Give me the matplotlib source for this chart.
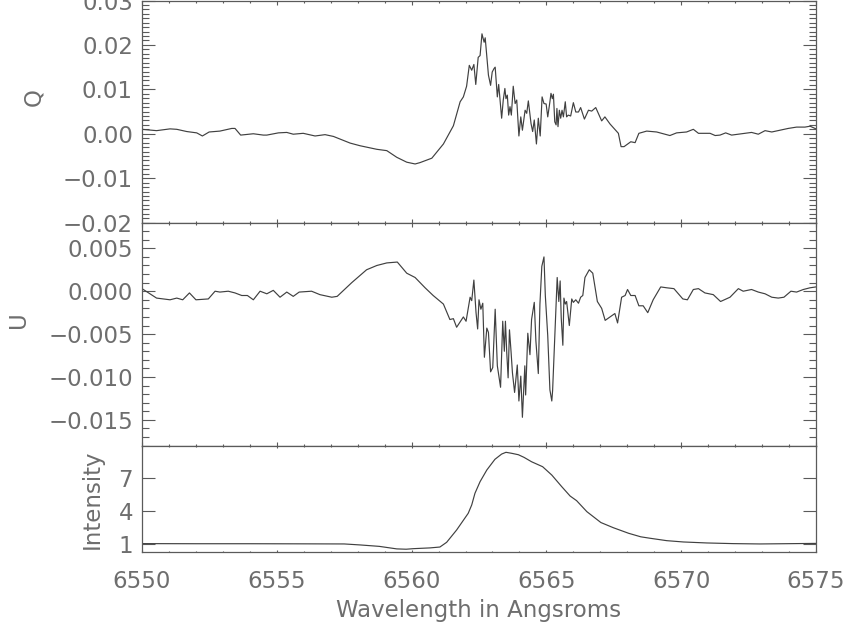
import numpy as np
import matplotlib
matplotlib.use("Agg")
import matplotlib.pyplot as plt
from matplotlib.ticker import MultipleLocator, FuncFormatter

# Stokes Q (wavelength in Angstrom, Q)
q_wave = [6550.00, 6550.54, 6551.04, 6551.29, 6551.66, 6552.03, 6552.24, 6552.49, 6552.89, 6553.33,
          6553.45, 6553.66, 6554.13, 6554.50, 6554.63, 6555.06, 6555.37, 6555.61, 6555.98, 6556.42,
          6556.79, 6557.10, 6557.72, 6558.09, 6558.71, 6559.08, 6559.45, 6559.82, 6560.13, 6560.31,
          6560.75, 6561.18, 6561.55, 6561.80, 6561.92, 6562.04, 6562.14, 6562.23, 6562.31, 6562.38,
          6562.47, 6562.54, 6562.61, 6562.69, 6562.73, 6562.85, 6562.93, 6562.99, 6563.06, 6563.10,
          6563.18, 6563.23, 6563.30, 6563.34, 6563.40, 6563.46, 6563.50, 6563.55, 6563.60, 6563.65,
          6563.70, 6563.77, 6563.84, 6563.90, 6563.98, 6564.05, 6564.11, 6564.21, 6564.27, 6564.33,
          6564.43, 6564.49, 6564.55, 6564.63, 6564.70, 6564.77, 6564.84, 6564.91, 6564.99, 6565.05,
          6565.13, 6565.17, 6565.22, 6565.26, 6565.31, 6565.36, 6565.39, 6565.43, 6565.48, 6565.53,
          6565.58, 6565.63, 6565.70, 6565.75, 6565.81, 6565.90, 6566.00, 6566.09, 6566.19, 6566.27,
          6566.41, 6566.56, 6566.68, 6566.83, 6567.05, 6567.17, 6567.36, 6567.61, 6567.67, 6567.77,
          6567.88, 6568.13, 6568.29, 6568.43, 6568.72, 6569.09, 6569.58, 6569.83, 6570.20, 6570.45,
          6570.64, 6571.07, 6571.26, 6571.44, 6571.65, 6571.87, 6572.24, 6572.61, 6572.86, 6573.11,
          6573.36, 6573.66, 6573.97, 6574.28, 6574.59, 6574.78, 6575.00]
q_vals = [0.0010, 0.0007, 0.0011, 0.0010, 0.0005, 0.0002, -0.0005, 0.0004, 0.0006, 0.0012,
          0.0012, -0.0003, 0.0000, -0.0003, -0.0003, 0.0002, 0.0003, -0.0001, 0.0001, -0.0005,
          -0.0002, -0.0006, -0.0021, -0.0027, -0.0035, -0.0038, -0.0053, -0.0064, -0.0068, -0.0065,
          -0.0055, -0.0023, 0.0018, 0.0072, 0.0083, 0.0107, 0.0154, 0.0143, 0.0156, 0.0111,
          0.0172, 0.0176, 0.0225, 0.0206, 0.0216, 0.0132, 0.0109, 0.0139, 0.0147, 0.0150,
          0.0083, 0.0111, 0.0061, 0.0035, 0.0076, 0.0102, 0.0079, 0.0087, 0.0042, 0.0061,
          0.0042, 0.0107, 0.0068, 0.0076, -0.0005, 0.0038, 0.0008, 0.0053, 0.0046, 0.0074,
          0.0023, 0.0005, 0.0031, -0.0023, 0.0035, -0.0005, 0.0083, 0.0068, 0.0067, 0.0038,
          0.0072, 0.0091, 0.0079, 0.0089, 0.0027, 0.0020, 0.0057, 0.0016, 0.0053, 0.0035,
          0.0053, 0.0038, 0.0072, 0.0038, 0.0042, 0.0040, 0.0070, 0.0049, 0.0049, 0.0059,
          0.0033, 0.0053, 0.0051, 0.0059, 0.0029, 0.0038, 0.0022, 0.0005, 0.0001, -0.0029,
          -0.0029, -0.0018, -0.0020, 0.0001, 0.0006, 0.0004, -0.0004, 0.0002, 0.0004, 0.0010,
          0.0001, 0.0001, -0.0004, -0.0003, 0.0002, -0.0003, 0.0000, 0.0003, -0.0001, 0.0007,
          0.0004, 0.0008, 0.0012, 0.0015, 0.0015, 0.0017, 0.0011]

# Stokes U
u_wave = [6550.00, 6550.54, 6551.04, 6551.29, 6551.51, 6551.76, 6552.00, 6552.46, 6552.71, 6552.89,
          6553.20, 6553.45, 6553.70, 6553.91, 6554.13, 6554.38, 6554.63, 6554.87, 6555.12, 6555.37,
          6555.61, 6555.83, 6556.29, 6556.60, 6557.04, 6557.24, 6557.78, 6558.33, 6558.71, 6559.08,
          6559.47, 6559.82, 6560.13, 6560.50, 6560.80, 6561.18, 6561.42, 6561.55, 6561.67, 6561.92,
          6562.02, 6562.17, 6562.23, 6562.31, 6562.39, 6562.45, 6562.50, 6562.57, 6562.64, 6562.70,
          6562.79, 6562.85, 6562.93, 6563.01, 6563.10, 6563.18, 6563.30, 6563.38, 6563.44, 6563.48,
          6563.53, 6563.58, 6563.63, 6563.69, 6563.74, 6563.82, 6563.92, 6563.98, 6564.05, 6564.11,
          6564.20, 6564.23, 6564.31, 6564.39, 6564.45, 6564.55, 6564.61, 6564.70, 6564.76, 6564.83,
          6564.91, 6564.96, 6565.05, 6565.13, 6565.20, 6565.23, 6565.32, 6565.40, 6565.46, 6565.51,
          6565.55, 6565.61, 6565.65, 6565.70, 6565.75, 6565.85, 6565.94, 6566.00, 6566.09, 6566.19,
          6566.27, 6566.35, 6566.43, 6566.59, 6566.72, 6566.89, 6567.05, 6567.18, 6567.36, 6567.54,
          6567.64, 6567.79, 6567.92, 6568.01, 6568.13, 6568.29, 6568.43, 6568.59, 6568.76, 6568.96,
          6569.24, 6569.46, 6569.73, 6570.06, 6570.23, 6570.45, 6570.64, 6570.88, 6571.19, 6571.46,
          6571.81, 6572.12, 6572.30, 6572.61, 6572.86, 6573.11, 6573.36, 6573.60, 6573.81, 6574.07,
          6574.28, 6574.53, 6574.78, 6575.00]
u_vals = [0.0003, -0.0008, -0.0010, -0.0008, -0.0010, -0.0002, -0.0010, -0.0009, 0.0000, -0.0001,
          0.0000, -0.0002, -0.0005, -0.0005, -0.0010, 0.0000, -0.0003, 0.0001, -0.0007, -0.0001,
          -0.0006, -0.0001, 0.0000, -0.0004, -0.0007, -0.0006, 0.0010, 0.0025, 0.0030, 0.0033,
          0.0034, 0.0021, 0.0016, 0.0004, -0.0005, -0.0015, -0.0033, -0.0032, -0.0042, -0.0030,
          -0.0035, -0.0007, -0.0011, 0.0013, -0.0025, -0.0044, -0.0010, -0.0021, -0.0014, -0.0077,
          -0.0043, -0.0048, -0.0094, -0.0089, -0.0021, -0.0087, -0.0112, -0.0035, -0.0070, -0.0035,
          -0.0072, -0.0101, -0.0045, -0.0071, -0.0095, -0.0118, -0.0086, -0.0128, -0.0099, -0.0147,
          -0.0087, -0.0121, -0.0049, -0.0074, -0.0033, -0.0013, -0.0058, -0.0096, -0.0015, 0.0029,
          0.0040, -0.0005, -0.0052, -0.0115, -0.0128, -0.0116, -0.0045, 0.0016, -0.0012, 0.0012,
          -0.0031, -0.0063, -0.0008, -0.0015, -0.0012, -0.0040, -0.0009, -0.0013, -0.0010, -0.0014,
          -0.0007, -0.0005, 0.0016, 0.0025, 0.0021, -0.0012, -0.0020, -0.0034, -0.0030, -0.0026,
          -0.0037, -0.0007, -0.0005, 0.0002, -0.0005, -0.0005, -0.0017, -0.0017, -0.0025, -0.0010,
          0.0005, 0.0004, 0.0003, -0.0009, -0.0010, 0.0002, 0.0003, -0.0002, -0.0004, -0.0012,
          -0.0007, 0.0003, 0.0000, 0.0002, -0.0001, -0.0003, -0.0007, -0.0008, -0.0007, 0.0000,
          -0.0001, 0.0002, 0.0004, 0.0005]

# Intensity profile
i_wave = [6550.00, 6552.00, 6554.00, 6556.00, 6557.50, 6558.09, 6558.80, 6559.45, 6559.80, 6560.06,
          6560.68, 6561.05, 6561.30, 6561.67, 6562.10, 6562.23, 6562.35, 6562.54, 6562.79, 6563.09,
          6563.34, 6563.50, 6563.71, 6563.96, 6564.17, 6564.45, 6564.86, 6565.20, 6565.57, 6565.88,
          6566.12, 6566.50, 6567.02, 6567.48, 6568.05, 6568.50, 6568.84, 6569.46, 6570.08, 6570.95,
          6571.93, 6572.92, 6573.79, 6575.00]
i_vals = [1.03, 1.02, 1.02, 1.01, 1.00, 0.91, 0.78, 0.55, 0.52, 0.57,
          0.64, 0.72, 1.15, 2.27, 3.79, 4.55, 5.61, 6.67, 7.73, 8.70,
          9.18, 9.34, 9.25, 9.12, 8.88, 8.48, 8.03, 7.27, 6.21, 5.36,
          4.94, 3.94, 2.95, 2.48, 1.97, 1.65, 1.52, 1.30, 1.18, 1.09,
          1.03, 1.00, 1.02, 1.05]

x_ticks = [6550, 6555, 6560, 6565, 6570, 6575]

text_col = '#6e6e6e'
line_col = '#404040'
plt.rcParams['font.family'] = ['DejaVu Sans']
plt.rcParams['font.size'] = 16.5


def minus_fmt(fmt):
    # proper minus sign, like the long dash in the original
    return FuncFormatter(lambda v, pos: (fmt % v).replace('-', '\u2212'))


fig = plt.figure(figsize=(8.44, 6.24), dpi=100)
left, width = 142 / 844, 674 / 844
ax_q = fig.add_axes([left, 1 - 222.6 / 624, width, 222.1 / 624])
ax_u = fig.add_axes([left, 1 - 445.6 / 624, width, 223.0 / 624])
ax_i = fig.add_axes([left, 1 - 552.3 / 624, width, 106.7 / 624])

ax_q.plot(q_wave, q_vals, color=line_col, lw=0.85)
ax_u.plot(u_wave, u_vals, color=line_col, lw=0.85)
ax_i.plot(i_wave, i_vals, color=line_col, lw=0.85)

ax_q.set_ylim(-0.02, 0.03)
ax_q.yaxis.set_major_locator(MultipleLocator(0.01))
ax_q.yaxis.set_minor_locator(MultipleLocator(0.001))
ax_q.yaxis.set_major_formatter(minus_fmt('%.2f'))

ax_u.set_ylim(-0.018, 0.008)
ax_u.yaxis.set_major_locator(MultipleLocator(0.005))
ax_u.yaxis.set_minor_locator(MultipleLocator(0.001))
ax_u.yaxis.set_major_formatter(minus_fmt('%.3f'))

ax_i.set_ylim(0.24, 9.95)
ax_i.set_yticks([1, 4, 7])
ax_i.set_yticklabels(['1', '4', '7'])

for ax, xlen in [(ax_q, 3.2), (ax_u, 3.2), (ax_i, 1.5)]:
    ax.set_xlim(6550, 6575)
    ax.set_xticks(x_ticks)
    ax.xaxis.set_minor_locator(MultipleLocator(1))
    ax.tick_params(which='both', direction='in', top=True, right=True,
                   colors='#5a5a5a', labelcolor=text_col, width=0.8)
    ax.tick_params(axis='x', which='major', length=xlen, pad=13)
    ax.tick_params(axis='x', which='minor', length=xlen / 2)
    ax.tick_params(axis='y', which='major', length=9.7, pad=6.5)
    ax.tick_params(axis='y', which='minor', length=4.8)
    for sp in ax.spines.values():
        sp.set_color('#5a5a5a')
        sp.set_linewidth(0.9)
    if ax is not ax_i:
        ax.tick_params(axis='x', labelbottom=False)

ax_q.set_ylabel('Q', color=text_col)
ax_q.yaxis.set_label_coords(-0.143, 0.564)
ax_u.set_ylabel('U', color=text_col)
ax_u.yaxis.set_label_coords(-0.166, 0.563)
ax_i.set_ylabel('Intensity', color=text_col)
ax_i.yaxis.set_label_coords(-0.057, 0.5)

fig.text(left + width / 2, 7.5 / 624, 'Wavelength in Angsroms', color=text_col,
         ha='center', va='baseline', fontsize=16.5)

fig.savefig('out.png', dpi=100)
